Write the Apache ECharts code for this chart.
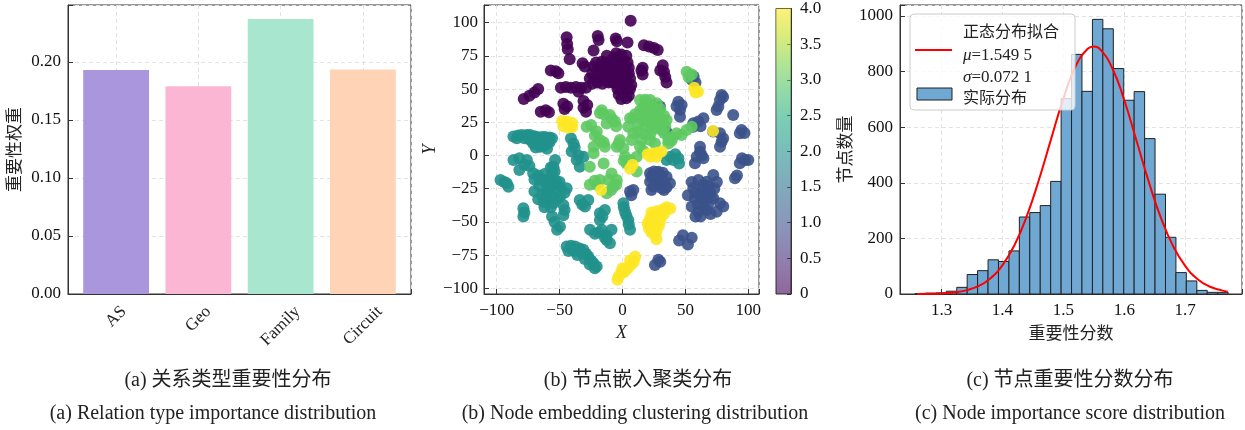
<!DOCTYPE html>
<html>
<head>
<meta charset="utf-8">
<script src="https://cdn.jsdelivr.net/npm/echarts@6.0.0/dist/echarts.min.js"></script>
<style>
  html, body { margin: 0; background: #fff; }
  #chart { width: 1245px; height: 430px; }
</style>
</head>
<body>
<div id="chart"></div>
<script>
// (a) 关系类型重要性
const relationTypes = ['AS', 'Geo', 'Family', 'Circuit'];
const relationWeights = [0.193, 0.179, 0.237, 0.1935];
const relationColors = ['#aa96dc', '#fab6d2', '#a8e6cf', '#ffd3b6'];

// (b) t-SNE embedding, one list per cluster label
const cluster0 = [
  [6.5,101.5],[-19.7,90],[-19,87],[-5.4,88],[-4.5,86],[4,85],
  [-44.4,89],[-44,84],[-43.5,80],[-23,79],[17,83],[21,82],[25,81],[28,79.5],
  [-42,72.5],[-31.7,69.5],[-30,67],[-57,64],[-53,63.5],[-51,62],
  [-67,50],[-70,47.5],[-74,45],[-78.5,42.5],[-65,33],[-61,34],[-58.5,32.5],
  [-49,51],[-45,51.5],[-41,51],[-37,51.5],[-33,51],[-29,51],[-35,48],
  [-47,39],[-46,35],[-44,37],[-31,41],[-31,36],[-29,33],[-28,38],
  [32,68],[33,63],[34,59],[35,55],[30,64],[16,66],[16,61],[15,64],
  [-26,58],[-22,58],[-18,58],[-14,57],[-24,54],[-20,55],[-16,54],
  [-23,67],[-19,66],[-16.5,70.5],[-12.5,75],[-13,70],[-14,65],[-10,68],[-10,63],[-12,60],[-9,58],
  [-7,74],[-3,73],[1,72],[4,70],[-6,69],[-2,68],[2,67],[5,66],[-7,64],[-3,63],[1,63],[5,62],
  [-6,59],[-2,58],[2,58],[6,58],[-5,54],[-1,54],[3,54],[7,53],[-4,50],[0,50],[4,49],
  [-3,46],[1,46],[5,45],[-1,42.5],[3,43],
  [-24,62],[-20,62],[-16,62],[-21,70],[-8,72],[-5,77],[-1,76],[3,75],[0,66],[-4,66],
  [3,60],[-8,61],[-1,60],[6,50],[2,51],[-2,52],[-11,55],[-8,55]
];
const cluster1 = [
  [55,57],[56.5,59.5],[58,55],[44.4,40.5],[47,38],[45.7,34.3],[43,37],[45.7,29.2],
  [56.3,24.2],[60.3,25.5],[64.3,28],[56.3,21.7],[62,22],
  [78.8,45.5],[77.5,41.8],[76.2,36.8],[74.8,34.3],[80,44],[88,30.4],
  [94.6,19.2],[93.3,16.7],[97,17],[77.5,16.7],[78.8,10.4],[77.5,6.6],[80,13],[72,18],
  [61.6,2.9],[64.3,-2.1],[57.6,-5.9],[59,-0.9],[61.6,6.6],[63,0],
  [93.3,-5.9],[97.4,-3.4],[100,-3.4],[95,-2],[89.4,-17.2],[91,-15],
  [21.9,-13.4],[25,-12],[28.5,-12.2],[32,-13],[35,-16],[37.7,-21],[31.1,-24.7],[24.5,-23.5],
  [21.9,-19.7],[28.5,-18.4],[33,-20],[26,-16],[23,-16],[30,-15],[35,-24],[28,-22],[23,-26],[33,-26],
  [8.6,-26],[6,-27.2],[7,-30],[29.8,36.8],[35,17.9],
  [60.3,-18.4],[66.9,-19.7],[72.2,-14.7],[56.3,-24.7],[62.9,-26],[69.5,-27.2],[57.6,-32.2],
  [65.6,-33.5],[72.2,-32.2],[77.5,-36],[80.1,-38.5],[74.8,-42.3],[66.9,-41],[60.3,-42.3],
  [55,-38.5],[52,-30],[55,-20],[64,-22],[68,-37],[70,-44],
  [58,-28],[62,-30],[66,-29],[70,-31],[73,-25],[75,-20],[60,-37],[64,-38],[58,-46],[62,-46],[68,-23],
  [48,-60],[55,-62],[52,-67],[45,-64],[28.5,-78.6],[25.8,-82.4],[30,-80]
];
const cluster2 = [
  [-86.7,14.2],[-83,15],[-80,15.4],[-76,15.5],[-73.5,15.4],[-70,14.5],[-68,14],[-64,14],
  [-61.6,14],[-58,13.5],[-56,13],[-72,11],[-71,9],[-67,8],[-65.6,6.6],[-62,11],[-60,9],
  [-84,13],[-78,13],[-74,12],[-66,11],[-63,7],[-58,10],[-69,6],[-60,5],
  [-97,-18.4],[-94,-20],[-90.7,-23.5],[-92,-21],
  [-86.7,-3.4],[-82,-2],[-76,-3.4],[-82,-11],[-74,-8],[-78,-7],
  [-71,-13.4],[-67,-15],[-65.6,-18.4],[-60.3,-18.4],[-55,-22],[-49.7,-23.5],[-44.4,-24.7],
  [-60.3,-27.2],[-55,-31],[-63,-35],[-55,-36],[-49.7,-31],[-56,-13.4],[-55,-8.5],[-53.6,-3.4],
  [-58,-25],[-64,-30],[-52,-27],[-60,-22],[-66,-23],[-59,-34],
  [-70,-18],[-62,-14],[-58,-18],[-50,-20],[-46,-28],[-52,-33],[-57,-39],[-62,-39],
  [-67,-33],[-70,-27],[-61,-31],[-53,-19],[-57,-9],[-54,-12],
  [-47,-37.3],[-47,-45],[-46,-41],[-56,-46],[-49.7,-53.6],[-52,-56],[-54,-50],
  [-78.8,-39.7],[-78.8,-46],[-78,-43],
  [-41,13],[-39,9],[-40.4,3],[-36.4,-3.4],[-34,-8.5],[-31,-1],[-38,6],[-35,0],
  [-34,-33.5],[-29.8,-38.5],[-27.2,-33.5],[-32,-37],
  [-44.4,-68.6],[-41,-68],[-37.7,-68.6],[-34,-70],[-31.1,-71],[-29,-74],[-27.2,-76],
  [-25,-79],[-23.2,-81],[-20.5,-83.5],[-40,-71],[-33,-73],
  [-43,-72],[-38,-72],[-36,-75],[-30,-78],[-26,-82],[-22,-85],
  [-25.8,-56],[-21.9,-59],[-16.5,-56],[-12.6,-60],[-8.7,-56],[-19,-58],[-14,-62],
  [-18,-43.5],[-14,-41],[-18,-48.5],[-16,-46],[-12.6,-63.6],[-10,-66],
  [0.7,-36],[1,-39],[2,-42.3],[3,-45],[4.6,-48.6],[5,-52],[6,-56],
  [40.4,-3.4],[44.4,-2.1],[35,-3.4],[38,-1],[42,1],[45,-6]
];
const cluster3 = [
  [51,63],[52.5,59],[55,61],
  [-16.5,34],[-15,31],[-18,32],[-28.5,21.7],[-25,23],[-20.5,18],[-22,15],
  [-12.6,24],[-10,30.5],[-8,27],[-6,25.5],[-5,22],[-18,11.7],[-15,10],
  [-23,6.6],[-14,6.6],[-23,1.6],[-26,-8.5],[-15,-6],
  [-26,-22],[-20.5,-22],[-18,-18.5],[-22,-19],[-11,-18.5],[-8.7,-13.5],[-7.3,-23.5],
  [-12.6,-28.5],[-4.6,-18.5],[-9,-26],[-5,-22],
  [-2,11.7],[0.7,5.4],[-4.6,6.6],[-3,9],[2,-1],[3.3,-6],[6,-3.4],[1,-4],[11.3,-12],
  [7.3,11.7],[8.6,16.7],[4.6,21.7],[6,28],[12.6,18],[15.2,11.7],
  [13.9,6.6],[21.9,11.7],[25.8,9.1],
  [13.9,41.8],[18,42],[21.9,41.8],[27.2,39.3],[24.5,34.3],[19.2,30.5],[13.9,29.2],[8.6,28],
  [24.5,26.7],[29.8,28],[35.1,26.7],[25.8,20.4],[19.2,21.7],[12.6,23],[31.1,19.2],
  [36.4,11.7],[43,16.7],[47,15.4],[51,19.2],[55,21.7],[16,36],[20,37],[28,32],[17,26],
  [22,24],[30,23],[34,22],[36.4,9],[39,11],[16.6,3.4],[11.3,-1],
  [16,32],[22,30],[26,30],[20,26],[26,23],[14,34],[10,31],[23,38],[30,35],[33,30],
  [28,25],[33,17],[40,14],[18,16],[22,16]
];
const cluster4 = [
  [-48,26],[-44,25.5],[-40,24.5],[-47,22],[-43,21],[-40,21.5],
  [57,51],[60,48],[58,47.5],[72,18.5],
  [20,1],[24,1.5],[28,2],[31,3],[27,-1],[22,-1],[8,-7],[6,-10],[-17,-26],
  [35,-39],[38,-40],[31,-41],[27,-42],[23,-43],[33,-44],[28,-46],[22,-47],[20,-51],
  [25,-50],[30,-49],[21,-55],[25,-56],[29,-53],[26,-60],[27,-63],
  [24,-46],[30,-44],[34,-41],[22,-52],[24,-53],[27,-57],[23,-58],
  [10,-76],[9,-80],[7,-82],[5,-84],[3,-86],[1,-88],[-1,-88],[-3,-91],[-4,-93.5],[6,-79],[0,-85]
];
const clusters = [cluster0, cluster1, cluster2, cluster3, cluster4];
const clusterColors = ['#440154', '#3b528b', '#21918c', '#5ec962', '#fde725'];
const viridisStops = ['#fde725', '#bddf26', '#7ad151', '#44bf70', '#22a884', '#21918c',
                      '#2a788e', '#355f8d', '#414487', '#482475', '#440154'];

// (c) 节点重要性分数直方图
const binEdges = [1.2563, 1.2734, 1.2906, 1.3077, 1.3249, 1.3420, 1.3591, 1.3763, 1.3934, 1.4106,
                  1.4277, 1.4448, 1.4620, 1.4791, 1.4963, 1.5134, 1.5305, 1.5477, 1.5648, 1.5820,
                  1.5991, 1.6162, 1.6334, 1.6505, 1.6677, 1.6848, 1.7019, 1.7191, 1.7362, 1.7534, 1.7705];
const binCounts = [1, 3, 4, 10, 24, 70, 84, 123, 117, 155, 277, 293, 318, 405, 703,
                   862, 729, 988, 954, 811, 697, 728, 559, 359, 204, 77, 47, 13, 6, 6];
const fitX = [1.26, 1.28, 1.30, 1.32, 1.34, 1.36, 1.38, 1.40, 1.42, 1.44, 1.46, 1.48, 1.50, 1.52,
              1.54, 1.55, 1.56, 1.58, 1.60, 1.62, 1.64, 1.66, 1.68, 1.70, 1.72, 1.74, 1.76, 1.77];
const fitY = [0.3, 0.8, 2, 6, 13, 28, 56, 104, 177, 281, 412, 559, 703, 819,
              882, 890, 881, 814, 697, 552, 405, 275, 173, 101, 54, 27, 13, 8];

const SERIF = "'Liberation Serif', 'Noto Sans CJK SC', serif";
const CJK = "'Noto Sans CJK SC', sans-serif";
const frameLine = { color: '#333', width: 1 };
const gridLine = { show: true, lineStyle: { color: '#e2e2e2', type: [4, 3], width: 1 } };

// 只显示步长整数倍的刻度标签
function stepLabel(step, digits) {
  return function (v) {
    const k = v / step;
    if (Math.abs(k - Math.round(k)) > 1e-6) return '';
    return v.toFixed(digits).replace('-', '\u2212');
  };
}

function valueAxis(grid, min, max, step, opts) {
  return Object.assign({
    gridIndex: grid, type: 'value', min: min, max: max,
    minInterval: step, maxInterval: step,
    axisLine: { show: true, onZero: false, lineStyle: frameLine },
    axisTick: { show: true, inside: true, length: 5, lineStyle: frameLine },
    axisLabel: { fontFamily: SERIF, fontSize: 17, color: '#111', margin: 7 },
    splitLine: gridLine
  }, opts);
}

const measure = document.createElement('canvas').getContext('2d');
measure.font = "17px 'Liberation Serif'";

function renderRelationBar(params, api) {
  const i = api.value(0);
  const v = api.value(1);
  const a = api.coord([i - 0.4, v]);
  const b = api.coord([i + 0.4, 0]);
  const foot = api.coord([i, 0]);
  const name = relationTypes[i];
  const off = 9 + (measure.measureText(name).width + 17) * 0.3536;
  return {
    type: 'group',
    children: [
      { type: 'rect', shape: { x: a[0], y: a[1], width: b[0] - a[0], height: b[1] - a[1] },
        style: { fill: relationColors[i] } },
      { type: 'text', x: foot[0], y: foot[1] + off, rotation: Math.PI / 4,
        style: { text: name, fontFamily: SERIF, fontSize: 17, fill: '#222',
                 align: 'center', verticalAlign: 'middle' } }
    ]
  };
}

function renderColorbar(params, api) {
  const a = api.coord([0, 4]);
  const b = api.coord([1, 0]);
  const stops = viridisStops.map((c, k) => ({ offset: k / (viridisStops.length - 1), color: c }));
  return {
    type: 'rect',
    shape: { x: a[0], y: a[1], width: b[0] - a[0], height: b[1] - a[1] },
    style: { fill: new echarts.graphic.LinearGradient(0, 0, 0, 1, stops), opacity: 0.6 }
  };
}

function renderBin(params, api) {
  const a = api.coord([api.value(0), api.value(2)]);
  const b = api.coord([api.value(1), 0]);
  return {
    type: 'rect',
    shape: { x: a[0], y: a[1], width: b[0] - a[0], height: b[1] - a[1] },
    style: { fill: '#70a8d4', stroke: '#222', lineWidth: 1 }
  };
}

const chart = echarts.init(document.getElementById('chart'));

const option = {
  animation: false,
  grid: [
    { left: 68, top: 5, width: 343, height: 289, show: true, borderColor: '#333', borderWidth: 1 },
    { left: 484, top: 5, width: 275, height: 289, show: true, borderColor: '#333', borderWidth: 1 },
    { left: 776, top: 5, width: 15, height: 289, show: true, borderColor: '#333', borderWidth: 1 },
    { left: 900, top: 5, width: 343, height: 289, show: true, borderColor: '#333', borderWidth: 1 }
  ],
  xAxis: [
    valueAxis(0, -0.585, 3.585, 1, { axisLabel: { show: false } }),
    valueAxis(1, -110.1, 108.5, 50, {
      name: 'X', nameLocation: 'middle', nameGap: 28,
      nameTextStyle: { fontFamily: SERIF, fontStyle: 'italic', fontSize: 18, color: '#222' },
      axisLabel: { fontFamily: SERIF, fontSize: 17, color: '#111', margin: 8, formatter: stepLabel(50, 0) }
    }),
    { gridIndex: 2, type: 'value', min: 0, max: 1, show: false },
    valueAxis(3, 1.2317, 1.7933, 0.1, {
      name: '重要性分数', nameLocation: 'middle', nameGap: 22,
      nameTextStyle: { fontFamily: CJK, fontSize: 17, color: '#222' },
      axisLabel: { fontFamily: SERIF, fontSize: 17, color: '#111', margin: 8, formatter: stepLabel(0.1, 1) }
    })
  ],
  yAxis: [
    valueAxis(0, 0, 0.249, 0.05, {
      name: '重要性权重', nameLocation: 'middle', nameGap: 46,
      nameTextStyle: { fontFamily: CJK, fontSize: 17, color: '#222' },
      axisLabel: { fontFamily: SERIF, fontSize: 17, color: '#111', margin: 7, formatter: stepLabel(0.05, 2) }
    }),
    valueAxis(1, -104.3, 113.3, 25, {
      name: 'Y', nameLocation: 'middle', nameGap: 40,
      nameTextStyle: { fontFamily: SERIF, fontStyle: 'italic', fontSize: 18, color: '#222' },
      axisLabel: { fontFamily: SERIF, fontSize: 17, color: '#111', margin: 6, formatter: stepLabel(25, 0) }
    }),
    {
      gridIndex: 2, type: 'value', min: 0, max: 4, interval: 0.5, position: 'right',
      axisLine: { show: true, onZero: false, lineStyle: frameLine },
      axisTick: { show: true, inside: true, length: 4, lineStyle: frameLine },
      axisLabel: { fontFamily: SERIF, fontSize: 17, color: '#111', margin: 9,
                   formatter: v => (v === 0 ? '0' : v.toFixed(1)) },
      splitLine: { show: false }
    },
    valueAxis(3, 0, 1039.6, 200, {
      name: '节点数量', nameLocation: 'middle', nameGap: 47,
      nameTextStyle: { fontFamily: CJK, fontSize: 17, color: '#222' },
      axisLabel: { fontFamily: SERIF, fontSize: 17, color: '#111', margin: 7, formatter: stepLabel(200, 0) }
    })
  ],
  series: [
    {
      type: 'custom', xAxisIndex: 0, yAxisIndex: 0,
      data: relationWeights.map((v, i) => [i, v]),
      encode: { x: 0, y: 1 },
      renderItem: renderRelationBar
    },
    ...clusters.map((pts, k) => ({
      type: 'scatter', xAxisIndex: 1, yAxisIndex: 1,
      data: pts, symbolSize: 12,
      itemStyle: { color: clusterColors[k], opacity: 0.9 }
    })),
    {
      type: 'custom', xAxisIndex: 2, yAxisIndex: 2,
      data: [[0, 4]], renderItem: renderColorbar
    },
    {
      type: 'custom', xAxisIndex: 3, yAxisIndex: 3,
      data: binCounts.map((c, i) => [binEdges[i], binEdges[i + 1], c]),
      encode: { x: [0, 1], y: 2 },
      renderItem: renderBin
    },
    {
      type: 'line', xAxisIndex: 3, yAxisIndex: 3,
      data: fitX.map((x, i) => [x, fitY[i]]),
      smooth: true, showSymbol: false,
      lineStyle: { color: '#ff0000', width: 2 }, z: 3
    }
  ],
  graphic: [
    // legend of panel (c)
    { type: 'rect', z: 100, shape: { x: 910, y: 14, width: 165, height: 96, r: 4 },
      style: { fill: 'rgba(255,255,255,0.8)', stroke: '#cccccc', lineWidth: 1 } },
    { type: 'line', z: 101, shape: { x1: 915, y1: 50, x2: 952, y2: 50 },
      style: { stroke: '#ff0000', lineWidth: 2 } },
    { type: 'rect', z: 101, shape: { x: 917, y: 88, width: 35, height: 12 },
      style: { fill: '#70a8d4', stroke: '#222', lineWidth: 1 } },
    { type: 'text', z: 101, x: 963, y: 31,
      style: { text: '正态分布拟合', font: "16px 'Noto Sans CJK SC'", fill: '#222', verticalAlign: 'middle' } },
    { type: 'text', z: 101, x: 963, y: 56,
      style: { text: '{i|μ}=1.549 5', font: "17px 'Liberation Serif'", fill: '#222', verticalAlign: 'middle',
               rich: { i: { fontStyle: 'italic', fontFamily: 'Liberation Serif', fontSize: 17 } } } },
    { type: 'text', z: 101, x: 963, y: 78,
      style: { text: '{i|σ}=0.072 1', font: "17px 'Liberation Serif'", fill: '#222', verticalAlign: 'middle',
               rich: { i: { fontStyle: 'italic', fontFamily: 'Liberation Serif', fontSize: 17 } } } },
    { type: 'text', z: 101, x: 963, y: 97,
      style: { text: '实际分布', font: "16px 'Noto Sans CJK SC'", fill: '#222', verticalAlign: 'middle' } },
    // captions
    { type: 'text', x: 228, y: 381, style: { text: '(a) 关系类型重要性分布', font: "20px 'Liberation Serif', 'Noto Sans CJK SC'", fill: '#222', align: 'center', verticalAlign: 'middle' } },
    { type: 'text', x: 213, y: 414, style: { text: '(a) Relation type importance distribution', font: "20px 'Liberation Serif'", fill: '#222', align: 'center', verticalAlign: 'middle' } },
    { type: 'text', x: 638, y: 381, style: { text: '(b) 节点嵌入聚类分布', font: "20px 'Liberation Serif', 'Noto Sans CJK SC'", fill: '#222', align: 'center', verticalAlign: 'middle' } },
    { type: 'text', x: 635, y: 414, style: { text: '(b) Node embedding clustering distribution', font: "20px 'Liberation Serif'", fill: '#222', align: 'center', verticalAlign: 'middle' } },
    { type: 'text', x: 1070, y: 381, style: { text: '(c) 节点重要性分数分布', font: "20px 'Liberation Serif', 'Noto Sans CJK SC'", fill: '#222', align: 'center', verticalAlign: 'middle' } },
    { type: 'text', x: 1070, y: 414, style: { text: '(c) Node importance score distribution', font: "20px 'Liberation Serif'", fill: '#222', align: 'center', verticalAlign: 'middle' } }
  ]
};

chart.setOption(option);
</script>
</body>
</html>
